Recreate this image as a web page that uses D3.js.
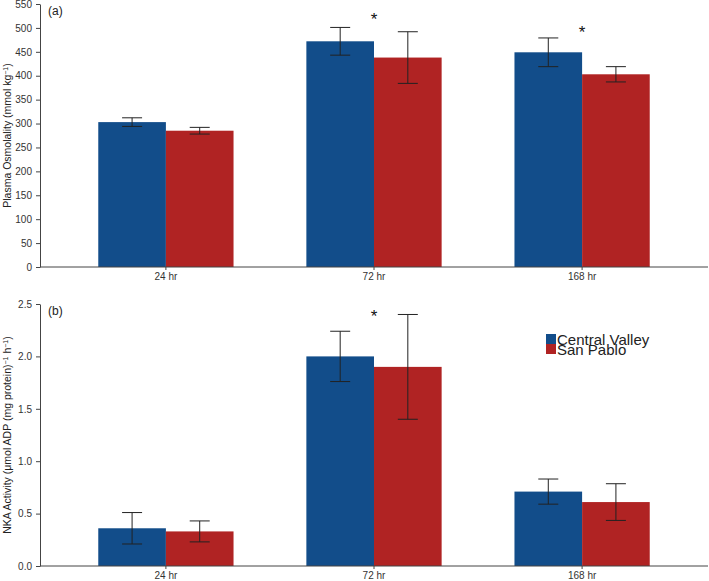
<!DOCTYPE html>
<html>
<head>
<meta charset="utf-8">
<script src="https://cdn.jsdelivr.net/npm/d3@7"></script>
<style>
  body { margin: 0; background: #fff; }
  svg { display: block; font-family: "Liberation Sans", Arial, sans-serif; }
  .axis path, .axis line { stroke: #444; }
  .axis text { fill: #333; font-size: 10px; }
</style>
</head>
<body>
<div id="chart_area"></div>
<script>
var categories = ["24 hr", "72 hr", "168 hr"];
var groups = ["Central Valley", "San Pablo"];
var colors = ["#124d8a", "#b02323"];

// panel (a) plasma osmolality
var osmoCV = [303, 472, 449];
var osmoSP = [285, 438, 403];
var osmoCVErr = [9, 29, 30];
var osmoSPErr = [7, 54, 16];
var osmoTicks = [0, 50, 100, 150, 200, 250, 300, 350, 400, 450, 500, 550];
var osmoStars = [null, 524, 498];

// panel (b) NKA activity
var nkaCV = [0.36, 2.0, 0.71];
var nkaSP = [0.33, 1.90, 0.61];
var nkaCVErr = [0.15, 0.24, 0.12];
var nkaSPErr = [0.10, 0.50, 0.175];
var nkaTicks = [0.0, 0.5, 1.0, 1.5, 2.0, 2.5];
var nkaStars = [null, 2.41, null];

var width = 709, height = 581;
var left = 40, right = 708;

var svg = d3.select("#chart_area")
    .append("svg")
    .attr("width", width)
    .attr("height", height);

var x = d3.scaleBand()
    .domain(categories)
    .range([left, right])
    .paddingInner(0.35)
    .paddingOuter(0.28);

var xSub = d3.scaleBand()
    .domain(groups)
    .range([0, x.bandwidth()]);

function drawPanel(opts) {
    var y = d3.scaleLinear()
        .domain([0, opts.ticks[opts.ticks.length - 1]])
        .range([opts.bottom, opts.top]);

    var g = svg.append("g");

    var rows = categories.map(function (c, i) {
        return [
            { cat: c, grp: groups[0], v: opts.cv[i], e: opts.cvErr[i], col: colors[0] },
            { cat: c, grp: groups[1], v: opts.sp[i], e: opts.spErr[i], col: colors[1] }
        ];
    });
    var bars = [].concat.apply([], rows);

    g.selectAll("rect.bar")
        .data(bars)
        .enter()
        .append("rect")
        .attr("class", "bar")
        .attr("x", function (d) { return x(d.cat) + xSub(d.grp); })
        .attr("width", xSub.bandwidth())
        .attr("y", function (d) { return y(d.v); })
        .attr("height", function (d) { return y(0) - y(d.v); })
        .attr("fill", function (d) { return d.col; });

    // error bars
    var err = g.selectAll("g.err")
        .data(bars)
        .enter()
        .append("g")
        .attr("class", "err")
        .attr("stroke", "#222")
        .attr("stroke-width", 1);
    err.append("line")
        .attr("x1", function (d) { return x(d.cat) + xSub(d.grp) + xSub.bandwidth() / 2; })
        .attr("x2", function (d) { return x(d.cat) + xSub(d.grp) + xSub.bandwidth() / 2; })
        .attr("y1", function (d) { return y(d.v + d.e); })
        .attr("y2", function (d) { return y(d.v - d.e); });
    [1, -1].forEach(function (s) {
        err.append("line")
            .attr("x1", function (d) { return x(d.cat) + xSub(d.grp) + xSub.bandwidth() / 2 - 10; })
            .attr("x2", function (d) { return x(d.cat) + xSub(d.grp) + xSub.bandwidth() / 2 + 10; })
            .attr("y1", function (d) { return y(d.v + s * d.e); })
            .attr("y2", function (d) { return y(d.v + s * d.e); });
    });

    // significance stars
    g.selectAll("text.star")
        .data(categories.filter(function (c, i) { return opts.stars[i] != null; }))
        .enter()
        .append("text")
        .attr("class", "star")
        .attr("x", function (c) { return x(c) + x.bandwidth() / 2; })
        .attr("y", function (c) { return y(opts.stars[categories.indexOf(c)]) + 9; })
        .attr("text-anchor", "middle")
        .attr("font-size", 17)
        .attr("fill", "#111")
        .text("*");

    var yAxis = g.append("g")
        .attr("class", "axis")
        .attr("transform", "translate(" + left + ",0)")
        .call(d3.axisLeft(y).tickValues(opts.ticks).tickSize(4).tickSizeOuter(0)
            .tickFormat(opts.fmt));
    yAxis.selectAll("text").attr("dx", "-1");

    var xAxis = g.append("g")
        .attr("class", "axis")
        .attr("transform", "translate(0," + opts.bottom + ")")
        .call(d3.axisBottom(x).tickSize(3).tickSizeOuter(0));
    xAxis.select(".domain").attr("d", "M" + left + ",0H" + right);

    g.append("text")
        .attr("x", left + 8)
        .attr("y", opts.top + 11)
        .attr("font-size", 12)
        .attr("fill", "#222")
        .text(opts.tag);

    var lab = g.append("text")
        .attr("transform", "translate(11," + ((opts.top + opts.bottom) / 2) + ") rotate(-90)")
        .attr("text-anchor", "middle")
        .attr("font-size", 10.5)
        .attr("fill", "#222");
    opts.label(lab);
}

drawPanel({
    top: 4, bottom: 267, ticks: osmoTicks, fmt: d3.format("d"),
    cv: osmoCV, sp: osmoSP, cvErr: osmoCVErr, spErr: osmoSPErr, stars: osmoStars,
    tag: "(a)",
    label: function (t) {
        t.append("tspan").text("Plasma Osmolality (mmol kg");
        t.append("tspan").attr("baseline-shift", "super").attr("font-size", 7).text("\u22121");
        t.append("tspan").text(")");
    }
});

drawPanel({
    top: 304, bottom: 566, ticks: nkaTicks, fmt: d3.format(".1f"),
    cv: nkaCV, sp: nkaSP, cvErr: nkaCVErr, spErr: nkaSPErr, stars: nkaStars,
    tag: "(b)",
    label: function (t) {
        t.append("tspan").text("NKA Activity (\u03bcmol ADP (mg protein)");
        t.append("tspan").attr("baseline-shift", "super").attr("font-size", 7).text("\u22121");
        t.append("tspan").text(" h");
        t.append("tspan").attr("baseline-shift", "super").attr("font-size", 7).text("\u22121");
        t.append("tspan").text(")");
    }
});

// legend
var legend = svg.append("g").attr("transform", "translate(546,334)");
groups.forEach(function (name, i) {
    legend.append("rect")
        .attr("x", 0)
        .attr("y", i * 10)
        .attr("width", 10)
        .attr("height", 10)
        .attr("fill", colors[i]);
    legend.append("text")
        .attr("x", 11)
        .attr("y", i * 10 + 10.5)
        .attr("font-size", 15)
        .attr("fill", "#222")
        .text(name);
});
</script>
</body>
</html>
